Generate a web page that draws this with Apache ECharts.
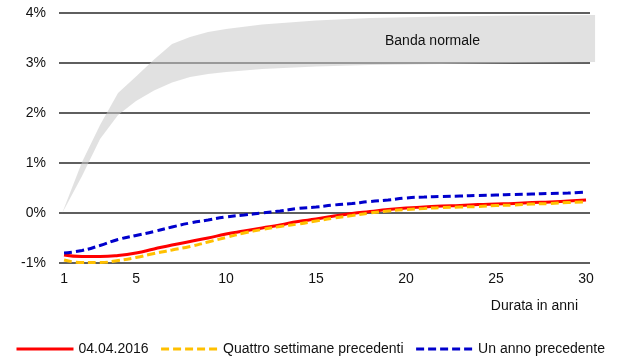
<!DOCTYPE html>
<html>
<head>
<meta charset="utf-8">
<script src="https://cdn.jsdelivr.net/npm/echarts@6/dist/echarts.min.js"></script>
<style>
    html, body { margin: 0; padding: 0; background: #fff; }
    #chart { width: 625px; height: 358px; }
</style>
</head>
<body>
<div id="chart"></div>
<script>
    // durata in anni
    var years = [1, 2, 3, 4, 5, 6, 7, 8, 9, 10, 11, 12, 13, 14, 15, 16, 17, 18, 19, 20, 21, 22, 23, 24, 25, 26, 27, 28, 29, 30];
    // curve dei rendimenti (%)
    var curveOggi = [-0.84, -0.87, -0.87, -0.85, -0.80, -0.72, -0.64, -0.57, -0.50, -0.42, -0.36, -0.30, -0.24, -0.17, -0.12, -0.06, -0.01, 0.03, 0.07, 0.10, 0.12, 0.14, 0.15, 0.17, 0.18, 0.19, 0.21, 0.22, 0.24, 0.26];
    var curveQuattroSett = [-0.94, -0.99, -0.99, -0.95, -0.89, -0.81, -0.74, -0.67, -0.58, -0.49, -0.40, -0.33, -0.27, -0.22, -0.16, -0.10, -0.05, 0.00, 0.04, 0.07, 0.09, 0.11, 0.12, 0.13, 0.15, 0.16, 0.18, 0.19, 0.21, 0.22];
    var curveUnAnno = [-0.80, -0.75, -0.65, -0.53, -0.45, -0.37, -0.28, -0.20, -0.14, -0.08, -0.04, 0.00, 0.04, 0.09, 0.12, 0.16, 0.19, 0.23, 0.26, 0.30, 0.32, 0.33, 0.34, 0.35, 0.36, 0.37, 0.38, 0.39, 0.40, 0.42];
    // banda normale
    var bandX = [0.9, 2, 3, 4, 5, 6, 7, 8, 9, 10, 12, 15, 18, 22, 26, 30.5];
    var bandLow = [0, 0.74, 1.48, 1.96, 2.24, 2.45, 2.61, 2.72, 2.78, 2.82, 2.88, 2.93, 2.96, 2.98, 3.0, 3.02];
    var bandHigh = [0, 1.02, 1.76, 2.4, 2.73, 3.07, 3.38, 3.52, 3.62, 3.68, 3.77, 3.85, 3.9, 3.93, 3.95, 3.96];
    var xTicks = [1, 5, 10, 15, 20, 25, 30];

    var font = 'Liberation Sans, Arial, sans-serif';

    function pairs(xs, ys) {
        var out = [];
        for (var i = 0; i < xs.length; i++) {
            out.push([xs[i], ys[i]]);
        }
        return out;
    }

    var chart = echarts.init(document.getElementById('chart'));
    chart.setOption({
        animation: false,
        textStyle: {fontFamily: font},
        grid: {left: 59, right: 35, top: 13, bottom: 95},
        legend: {
            left: 10,
            top: 337,
            itemWidth: 57,
            itemHeight: 12,
            itemGap: 11,
            itemStyle: {opacity: 0},
            lineStyle: {width: 3},
            textStyle: {fontSize: 14, color: '#111', fontFamily: font},
            data: ['04.04.2016', 'Quattro settimane precedenti', 'Un anno precedente']
        },
        xAxis: {
            type: 'value',
            min: 0.72,
            max: 30.22,
            axisLine: {show: false},
            axisTick: {show: false},
            splitLine: {show: false},
            axisLabel: {
                fontSize: 14,
                color: '#111',
                margin: 9,
                customValues: xTicks,
                formatter: function (v) { return xTicks.indexOf(v) >= 0 ? String(v) : ''; }
            }
        },
        yAxis: {
            type: 'value',
            min: -1,
            max: 4,
            interval: 1,
            axisLine: {show: false},
            axisTick: {show: false},
            splitLine: {lineStyle: {color: '#2a2a2a', width: 1.5}},
            axisLabel: {
                fontSize: 14,
                color: '#111',
                margin: 13,
                formatter: '{value}%'
            }
        },
        graphic: [
            {type: 'text', z: 100, left: 385, top: 34, style: {text: 'Banda normale', fill: '#111', font: '14px ' + font}},
            {type: 'text', z: 100, right: 47, top: 299, style: {text: 'Durata in anni', fill: '#111', font: '14px ' + font}}
        ],
        series: [
            {
                name: 'band',
                type: 'custom',
                silent: true,
                clip: false,
                z: 1,
                data: [0],
                renderItem: function (params, api) {
                    var pts = [];
                    for (var i = 0; i < bandX.length; i++) {
                        pts.push(api.coord([bandX[i], bandHigh[i]]));
                    }
                    for (var j = bandX.length - 1; j >= 0; j--) {
                        pts.push(api.coord([bandX[j], bandLow[j]]));
                    }
                    return {
                        type: 'polygon',
                        shape: {points: pts},
                        style: {fill: 'rgba(200,200,200,0.55)', stroke: null}
                    };
                }
            },
            {
                name: 'Un anno precedente',
                type: 'line',
                smooth: true,
                symbol: 'none',
                z: 3,
                color: '#0000cc',
                lineStyle: {width: 3, type: [8, 4], color: '#0000cc'},
                data: pairs(years, curveUnAnno)
            },
            {
                name: 'Quattro settimane precedenti',
                type: 'line',
                smooth: true,
                symbol: 'none',
                z: 3,
                color: '#ffc000',
                lineStyle: {width: 3, type: [8, 4], color: '#ffc000'},
                data: pairs(years, curveQuattroSett)
            },
            {
                name: '04.04.2016',
                type: 'line',
                smooth: true,
                symbol: 'none',
                z: 2,
                color: '#ff0000',
                lineStyle: {width: 3, color: '#ff0000'},
                data: pairs(years, curveOggi)
            }
        ]
    });
</script>
</body>
</html>
